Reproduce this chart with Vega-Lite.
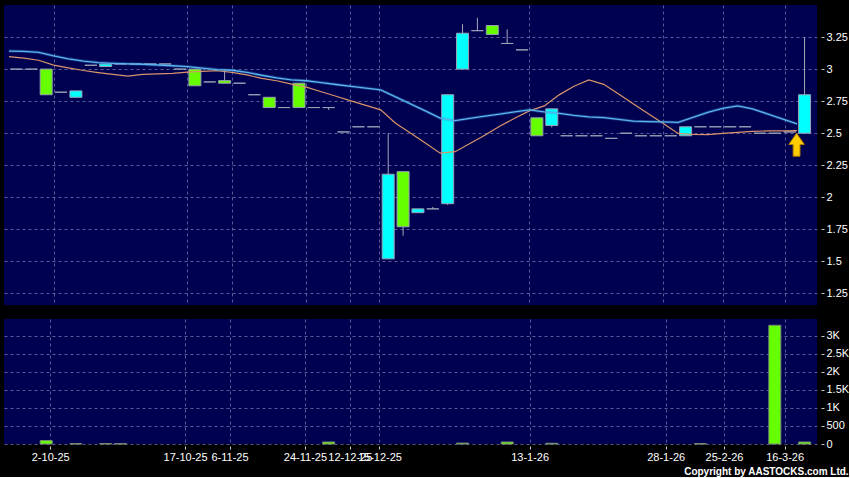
{
  "$schema": "https://vega.github.io/schema/vega-lite/v6.json",
  "background": "black",
  "padding": {"left": 4, "top": 5, "right": 0, "bottom": 0},
  "spacing": 14,
  "config": {
    "font": "Liberation Sans",
    "view": {"fill": "#000050", "stroke": null},
    "axis": {
      "gridColor": "#7878b0",
      "gridDash": [3, 3],
      "gridOpacity": 0.75,
      "gridWidth": 1,
      "labelColor": "#ffffff",
      "labelFontSize": 11,
      "tickColor": "#c8c8c8",
      "tickCount": 60,
      "labelOverlap": false,
      "domain": false
    }
  },
  "title": {
    "text": "Copyright by AASTOCKS.com Ltd.",
    "orient": "bottom",
    "anchor": "end",
    "frame": "bounds",
    "color": "#ffffff",
    "fontSize": 10,
    "fontWeight": "bold",
    "offset": 5
  },
  "datasets": {
    "days": [
      {"k":0,"o":3.0,"h":3.0,"l":3.0,"c":3.0,"ma1":3.098,"ma2":3.141,"vol":0},
      {"k":1,"o":3.0,"h":3.0,"l":3.0,"c":3.0,"ma1":3.086,"ma2":3.139,"vol":0},
      {"k":2,"o":3.0,"h":3.0,"l":2.8,"c":2.8,"ma1":3.069,"ma2":3.131,"vol":95},
      {"k":3,"o":2.82,"h":2.82,"l":2.82,"c":2.82,"ma1":3.031,"ma2":3.104,"vol":0},
      {"k":4,"o":2.78,"h":2.83,"l":2.78,"c":2.83,"ma1":3.010,"ma2":3.080,"vol":10},
      {"k":5,"o":3.03,"h":3.03,"l":3.03,"c":3.03,"ma1":2.989,"ma2":3.063,"vol":0},
      {"k":6,"o":3.02,"h":3.04,"l":3.02,"c":3.04,"ma1":2.973,"ma2":3.051,"vol":10},
      {"k":7,"o":3.04,"h":3.04,"l":3.04,"c":3.04,"ma1":2.959,"ma2":3.045,"vol":10},
      {"k":8,"o":3.04,"h":3.04,"l":3.04,"c":3.04,"ma1":2.945,"ma2":3.041,"vol":0},
      {"k":9,"o":3.04,"h":3.04,"l":3.04,"c":3.04,"ma1":2.959,"ma2":3.038,"vol":0},
      {"k":10,"o":3.04,"h":3.04,"l":3.04,"c":3.04,"ma1":2.963,"ma2":3.032,"vol":0},
      {"k":11,"o":3.0,"h":3.0,"l":3.0,"c":3.0,"ma1":2.966,"ma2":3.026,"vol":0},
      {"k":12,"o":3.0,"h":3.0,"l":2.87,"c":2.87,"ma1":2.977,"ma2":3.020,"vol":0},
      {"k":13,"o":2.9,"h":2.9,"l":2.9,"c":2.9,"ma1":2.983,"ma2":3.008,"vol":0},
      {"k":14,"o":2.91,"h":3.0,"l":2.89,"c":2.89,"ma1":2.988,"ma2":2.996,"vol":0},
      {"k":15,"o":2.89,"h":2.89,"l":2.89,"c":2.89,"ma1":2.975,"ma2":2.991,"vol":0},
      {"k":16,"o":2.8,"h":2.8,"l":2.8,"c":2.8,"ma1":2.955,"ma2":2.975,"vol":0},
      {"k":17,"o":2.78,"h":2.78,"l":2.7,"c":2.7,"ma1":2.928,"ma2":2.952,"vol":0},
      {"k":18,"o":2.7,"h":2.7,"l":2.7,"c":2.7,"ma1":2.909,"ma2":2.932,"vol":0},
      {"k":19,"o":2.89,"h":2.89,"l":2.7,"c":2.7,"ma1":2.883,"ma2":2.916,"vol":0},
      {"k":20,"o":2.7,"h":2.7,"l":2.7,"c":2.7,"ma1":2.859,"ma2":2.909,"vol":0},
      {"k":21,"o":2.7,"h":2.7,"l":2.68,"c":2.7,"ma1":2.823,"ma2":2.895,"vol":55},
      {"k":22,"o":2.51,"h":2.51,"l":2.51,"c":2.51,"ma1":2.788,"ma2":2.880,"vol":0},
      {"k":23,"o":2.55,"h":2.55,"l":2.55,"c":2.55,"ma1":2.752,"ma2":2.866,"vol":0},
      {"k":24,"o":2.55,"h":2.55,"l":2.55,"c":2.55,"ma1":2.717,"ma2":2.852,"vol":0},
      {"k":25,"o":1.52,"h":2.5,"l":1.52,"c":2.18,"ma1":2.682,"ma2":2.838,"vol":0},
      {"k":26,"o":2.2,"h":2.2,"l":1.7,"c":1.77,"ma1":2.578,"ma2":2.784,"vol":0},
      {"k":27,"o":1.88,"h":1.91,"l":1.88,"c":1.91,"ma1":2.502,"ma2":2.729,"vol":0},
      {"k":28,"o":1.91,"h":1.925,"l":1.91,"c":1.91,"ma1":2.424,"ma2":2.674,"vol":0},
      {"k":29,"o":1.95,"h":2.8,"l":1.94,"c":2.8,"ma1":2.344,"ma2":2.617,"vol":0},
      {"k":30,"o":3.0,"h":3.35,"l":3.0,"c":3.28,"ma1":2.356,"ma2":2.598,"vol":25},
      {"k":31,"o":3.3,"h":3.4,"l":3.3,"c":3.3,"ma1":2.419,"ma2":2.616,"vol":0},
      {"k":32,"o":3.34,"h":3.34,"l":3.27,"c":3.27,"ma1":2.484,"ma2":2.633,"vol":0},
      {"k":33,"o":3.2,"h":3.31,"l":3.2,"c":3.2,"ma1":2.554,"ma2":2.649,"vol":55},
      {"k":34,"o":3.15,"h":3.15,"l":3.15,"c":3.15,"ma1":2.616,"ma2":2.666,"vol":0},
      {"k":35,"o":2.62,"h":2.62,"l":2.48,"c":2.48,"ma1":2.674,"ma2":2.682,"vol":0},
      {"k":36,"o":2.56,"h":2.69,"l":2.545,"c":2.69,"ma1":2.713,"ma2":2.666,"vol":20},
      {"k":37,"o":2.48,"h":2.48,"l":2.48,"c":2.48,"ma1":2.799,"ma2":2.655,"vol":0},
      {"k":38,"o":2.48,"h":2.48,"l":2.48,"c":2.48,"ma1":2.866,"ma2":2.639,"vol":0},
      {"k":39,"o":2.48,"h":2.48,"l":2.48,"c":2.48,"ma1":2.916,"ma2":2.627,"vol":0},
      {"k":40,"o":2.46,"h":2.46,"l":2.46,"c":2.46,"ma1":2.881,"ma2":2.622,"vol":0},
      {"k":41,"o":2.5,"h":2.5,"l":2.5,"c":2.5,"ma1":2.805,"ma2":2.608,"vol":0},
      {"k":42,"o":2.48,"h":2.48,"l":2.48,"c":2.48,"ma1":2.728,"ma2":2.594,"vol":0},
      {"k":43,"o":2.48,"h":2.48,"l":2.48,"c":2.48,"ma1":2.652,"ma2":2.591,"vol":0},
      {"k":44,"o":2.48,"h":2.48,"l":2.48,"c":2.48,"ma1":2.575,"ma2":2.588,"vol":0},
      {"k":45,"o":2.48,"h":2.55,"l":2.48,"c":2.55,"ma1":2.498,"ma2":2.584,"vol":0},
      {"k":46,"o":2.55,"h":2.55,"l":2.55,"c":2.55,"ma1":2.491,"ma2":2.623,"vol":10},
      {"k":47,"o":2.55,"h":2.55,"l":2.55,"c":2.55,"ma1":2.489,"ma2":2.663,"vol":0},
      {"k":48,"o":2.55,"h":2.55,"l":2.55,"c":2.55,"ma1":2.498,"ma2":2.694,"vol":0},
      {"k":49,"o":2.55,"h":2.55,"l":2.55,"c":2.55,"ma1":2.506,"ma2":2.713,"vol":0},
      {"k":50,"o":2.5,"h":2.5,"l":2.5,"c":2.5,"ma1":2.514,"ma2":2.690,"vol":0},
      {"k":51,"o":2.5,"h":2.5,"l":2.5,"c":2.5,"ma1":2.518,"ma2":2.651,"vol":3290},
      {"k":52,"o":2.51,"h":2.51,"l":2.51,"c":2.51,"ma1":2.518,"ma2":2.612,"vol":0},
      {"k":53,"o":2.5,"h":3.25,"l":2.5,"c":2.8,"ma1":2.520,"ma2":2.573,"vol":55}
    ],
    "marker": [
      {"k": 53, "price": 2.41}
    ]
  },
  "vconcat": [
    {
      "width": 813,
      "height": 300,
      "layer": [
        {
          "data": {"name": "days"},
          "mark": {"type": "rule", "color": "#a8a8b8", "strokeWidth": 1},
          "encoding": {
            "x": {"field": "k", "type": "quantitative", "title": null,
                  "scale": {"domain": [-0.5, 53.5], "nice": false, "zero": false},
                  "axis": {"values": [2.5, 11.5, 14.5, 19.45, 22.42, 24.41, 34.5, 43.5, 47.5, 51.66],
                           "tickCount": 60,
                           "grid": true, "labels": false, "ticks": false, "domain": false,
                           "minExtent": 0, "maxExtent": 0, "offset": 0}},
            "y": {"field": "l", "type": "quantitative", "title": null,
                  "scale": {"domain": [1.16, 3.5], "nice": false, "zero": false},
                  "axis": {"orient": "right", "values": [1.25, 1.5, 1.75, 2, 2.25, 2.5, 2.75, 3, 3.25],
                           "tickCount": 60, "labelOverlap": false,
                           "labelExpr": "datum.value + ''", "grid": true, "tickSize": 3, "offset": 4, "labelPadding": 2}},
            "y2": {"field": "h"}
          }
        },
        {
          "data": {"name": "days"},
          "mark": {"type": "bar", "size": 12, "stroke": "#9aa0b4", "strokeWidth": 1},
          "encoding": {
            "x": {"field": "k", "type": "quantitative", "title": null},
            "y": {"field": "o", "type": "quantitative", "title": null},
            "y2": {"field": "c"},
            "fill": {"condition": {"test": "datum.c > datum.o", "value": "#00ffff"}, "value": "#66ff00"}
          }
        },
        {
          "data": {"name": "days"},
          "mark": {"type": "line", "color": "#d9946a", "strokeWidth": 1.2, "xOffset": -7.5, "clip": true},
          "encoding": {
            "x": {"field": "k", "type": "quantitative", "title": null},
            "y": {"field": "ma1", "type": "quantitative", "title": null}
          }
        },
        {
          "data": {"name": "days"},
          "mark": {"type": "line", "color": "#3a8ad0", "strokeWidth": 3, "opacity": 0.35, "xOffset": -7.5, "clip": true},
          "encoding": {
            "x": {"field": "k", "type": "quantitative", "title": null},
            "y": {"field": "ma2", "type": "quantitative", "title": null}
          }
        },
        {
          "data": {"name": "days"},
          "mark": {"type": "line", "color": "#5ab4ee", "strokeWidth": 1.3, "xOffset": -7.5, "clip": true},
          "encoding": {
            "x": {"field": "k", "type": "quantitative", "title": null},
            "y": {"field": "ma2", "type": "quantitative", "title": null}
          }
        },
        {
          "data": {"name": "marker"},
          "mark": {"type": "point", "filled": true, "fill": "#ffcc00", "stroke": "#b07a00", "strokeWidth": 1, "opacity": 1,
                   "size": 529, "xOffset": -8,
                   "shape": "M0,-1L0.68,-0.02L0.3,-0.02L0.3,1L-0.3,1L-0.3,-0.02L-0.68,-0.02Z"},
          "encoding": {
            "x": {"field": "k", "type": "quantitative", "title": null},
            "y": {"field": "price", "type": "quantitative", "title": null}
          }
        }
      ]
    },
    {
      "width": 813,
      "height": 125,
      "data": {"name": "days"},
      "transform": [{"filter": "datum.vol > 0"}],
      "mark": {"type": "bar", "size": 12, "fill": "#66ff00", "stroke": "#7a8a7a", "strokeWidth": 1},
      "encoding": {
        "x": {"field": "k", "type": "quantitative", "title": null,
              "scale": {"domain": [-0.5, 53.5], "nice": false, "zero": false},
              "axis": {"values": [2.27, 11.34, 14.33, 19.4, 22.42, 24.41, 34.51, 43.66, 47.58, 51.66],
                       "tickCount": 60,
                       "grid": true, "domain": false, "tickSize": 3, "offset": 2, "labelPadding": 2,
                       "labelOverlap": false, "labelFlush": false, "labelBound": false,
                       "labelExpr": "datum.value < 5 ? '2-10-25' : datum.value < 12 ? '17-10-25' : datum.value < 16 ? '6-11-25' : datum.value < 21 ? '24-11-25' : datum.value < 23 ? '12-12-25' : datum.value < 30 ? '15-12-25' : datum.value < 40 ? '13-1-26' : datum.value < 45 ? '28-1-26' : datum.value < 50 ? '25-2-26' : '16-3-26'"}},
        "y": {"field": "vol", "type": "quantitative", "title": null,
              "scale": {"domain": [0, 3464], "nice": false, "zero": true},
              "axis": {"orient": "right", "values": [0, 500, 1000, 1500, 2000, 2500, 3000],
                       "tickCount": 60,
                       "grid": true, "tickSize": 3, "offset": 4, "labelPadding": 2,
                       "labelExpr": "datum.value >= 1000 ? (datum.value / 1000) + 'K' : datum.value + ''"}}
      }
    }
  ]
}
